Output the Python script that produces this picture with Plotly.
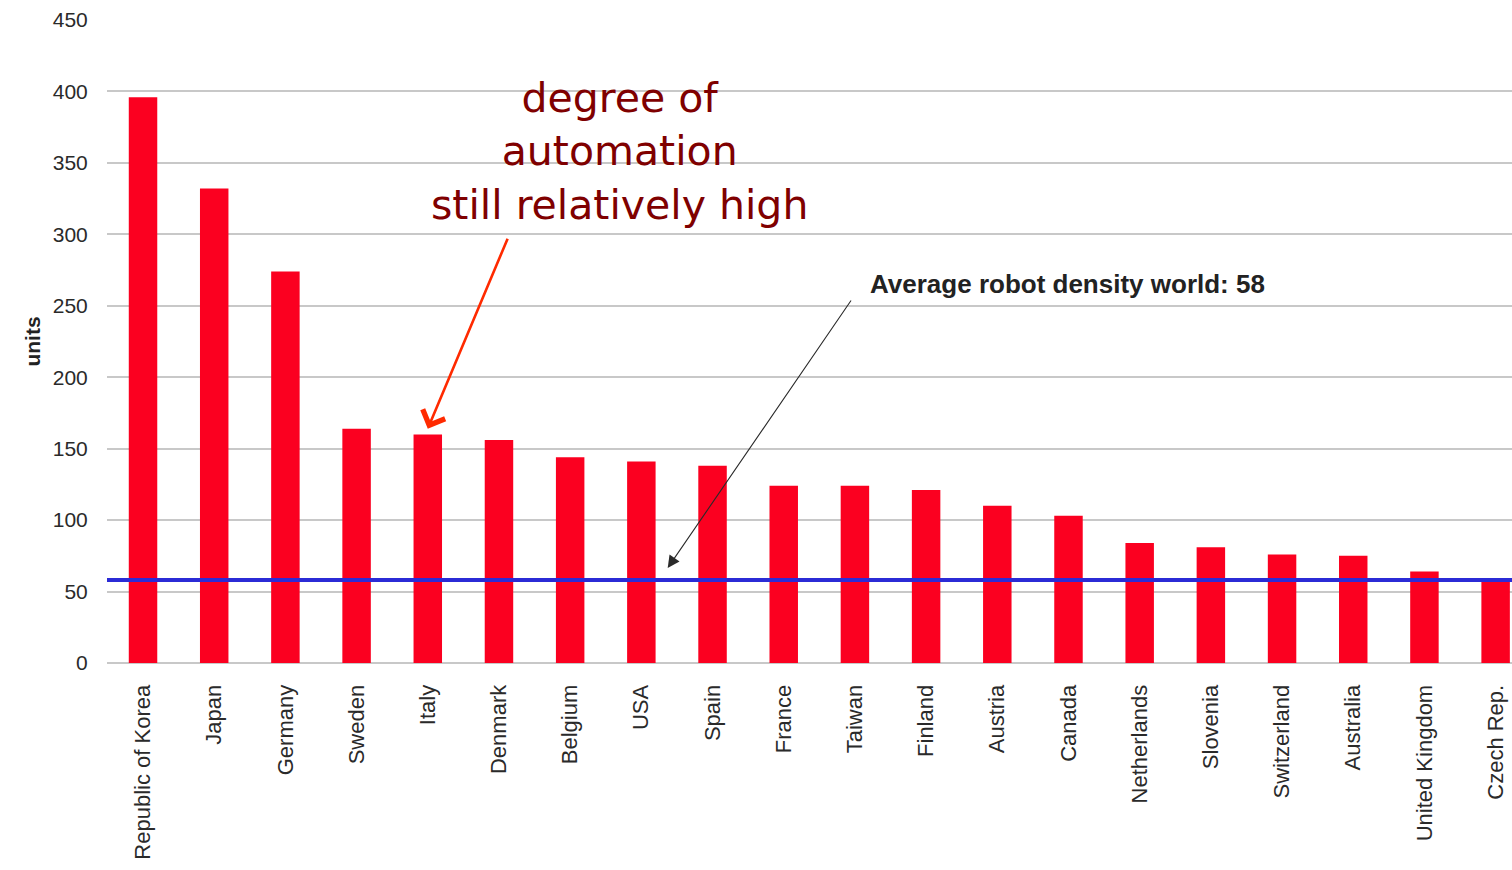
import plotly.graph_objects as go

countries = ["Republic of Korea", "Japan", "Germany", "Sweden", "Italy", "Denmark",
             "Belgium", "USA", "Spain", "France", "Taiwan", "Finland", "Austria",
             "Canada", "Netherlands", "Slovenia", "Switzerland", "Australia",
             "United Kingdom", "Czech Rep."]
density = [396, 332, 274, 164, 160, 156, 144, 141, 138, 124, 124, 121, 110,
           103, 84, 81, 76, 75, 64, 59]
world_avg = 58
y_ticks = [0, 50, 100, 150, 200, 250, 300, 350, 400, 450]

fig = go.Figure()
fig.add_trace(go.Bar(
    x=list(range(len(countries))), y=density,
    marker=dict(color="#fb0020", line=dict(width=0)),
    width=0.4, showlegend=False,
))

fig.add_shape(type="line", xref="paper", yref="y", x0=0, x1=1,
              y0=world_avg, y1=world_avg,
              line=dict(color="#2b2bd6", width=4), layer="above")

italy = countries.index("Italy")
spain = countries.index("Spain")

# red arrow
fig.add_annotation(x=italy, y=density[italy] + 4, xref="x", yref="y",
                   ax=italy + 1.13, ay=298, axref="x", ayref="y",
                   text="", showarrow=True, arrowhead=4, arrowsize=1.8,
                   arrowwidth=2.6, arrowcolor="#ff2a00")
# black arrow
fig.add_annotation(x=spain - 0.63, y=world_avg + 8.5, xref="x", yref="y",
                   ax=spain + 1.96, ay=254.7, axref="x", ayref="y",
                   text="", showarrow=True, arrowhead=2, arrowsize=2.2,
                   arrowwidth=1.1, arrowcolor="#2a2a2a")

fig.add_annotation(x=6.7, y=358, xref="x", yref="y", yanchor="middle",
                   text="degree of<br>automation<br>still relatively high",
                   showarrow=False, align="center",
                   font=dict(family="DejaVu Sans", size=41, color="#7f0000"))
fig.add_annotation(x=10.18, y=265, xref="x", yref="y", xanchor="left",
                   yanchor="middle", text="<b>Average robot density world: 58</b>",
                   showarrow=False,
                   font=dict(family="Liberation Sans", size=26, color="#222222"))

fig.update_layout(
    width=1512, height=870,
    margin=dict(l=107, r=0, t=20, b=207),
    plot_bgcolor="white", paper_bgcolor="white",
    bargap=0.6,
)
fig.update_xaxes(
    range=[-0.506, 19.23], tickmode="array",
    tickvals=list(range(len(countries))), ticktext=countries,
    tickangle=-90, showgrid=False, zeroline=False, showline=False,
    tickfont=dict(family="Liberation Sans", size=22, color="#2a2a2a"),
    ticks="outside", ticklen=12, tickcolor="rgba(0,0,0,0)",
)
fig.update_yaxes(
    range=[0, 450], tickvals=y_ticks, showgrid=True, gridcolor="#c8c8c8",
    gridwidth=1.5, zeroline=True, zerolinecolor="#c8c8c8", zerolinewidth=1.5,
    tickfont=dict(family="Liberation Sans", size=21, color="#2a2a2a"),
    ticks="outside", ticklen=14, tickcolor="rgba(0,0,0,0)",
    title=dict(text="<b>units</b>", standoff=6,
               font=dict(family="Liberation Sans", size=21, color="#222222")),
)

fig.write_html("out.html")
